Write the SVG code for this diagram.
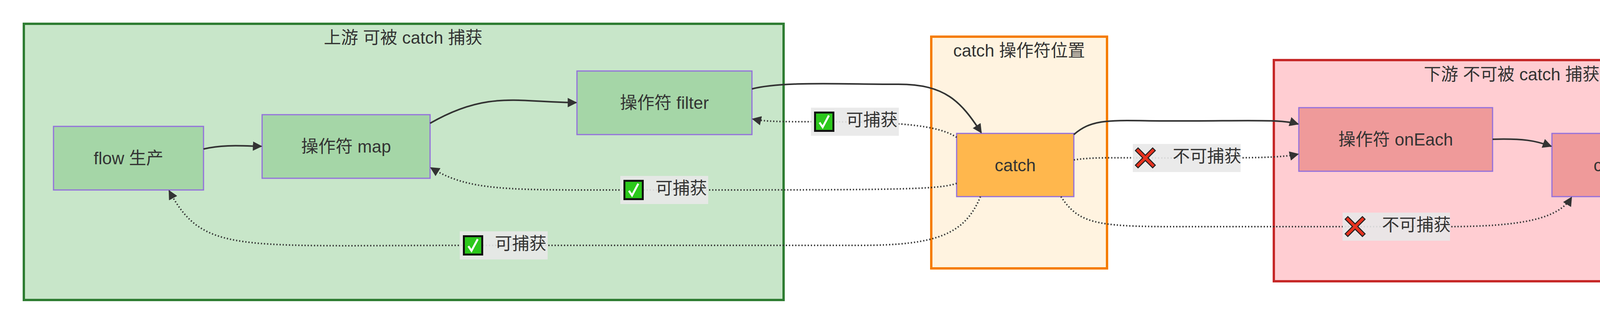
<svg xmlns="http://www.w3.org/2000/svg" width="4533" height="828" viewBox="0 0 4533 828">
<style>
text{font-family:"Liberation Sans","Noto Sans CJK SC",sans-serif;fill:#333;text-anchor:middle;dominant-baseline:central}
.t{font-size:44px}
.n{font-size:44px}
.node{stroke:#9370db;stroke-width:3}
.e{fill:none;stroke:#333;stroke-width:4}
.d{fill:none;stroke:#333;stroke-width:4;stroke-dasharray:3 5}
.lb{fill:#e8e8e8;opacity:0.9}
</style>
<defs>
<marker id="a" viewBox="0 0 10 10" refX="9" refY="5" markerWidth="6" markerHeight="6" markerUnits="strokeWidth" orient="auto"><path d="M0,0L10,5L0,10z" fill="#333"/></marker>
<g id="ok"><rect x="0" y="-26" width="52" height="52" fill="#111"/><rect x="5" y="-21" width="42" height="42" fill="#2cc81c"/><path d="M14,2 L22,14 L38,-16" fill="none" stroke="#fff" stroke-width="5"/></g>
<g id="no"><path d="M4,-28 L26,-6 L48,-28 L56,-20 L34,2 L56,24 L48,32 L26,10 L4,32 L-4,24 L18,2 L-4,-20z" fill="#e8321e" stroke="#222" stroke-width="3" transform="translate(4,-2) scale(0.85)"/></g>
</defs>
<g id="cluster-up"><rect x="61" y="61" width="1945" height="708" fill="#c8e6c9" stroke="#2e7d32" stroke-width="6"/><text class="t" x="1032" y="96">上游 可被 catch 捕获</text></g>
<g id="cluster-catch"><rect x="2384" y="94" width="450" height="594" fill="#fff3e0" stroke="#f57c00" stroke-width="6"/><text class="t" x="2609" y="129">catch 操作符位置</text></g>
<g id="cluster-down"><rect x="3261" y="154" width="1229" height="567" fill="#ffcdd2" stroke="#c62828" stroke-width="6"/><text class="t" x="3870" y="190">下游 不可被 catch 捕获</text></g>
<g id="flow"><rect class="node" x="137" y="324" width="384" height="163" fill="#a5d6a7"/><text class="n" x="329" y="405">flow 生产</text></g>
<g id="map"><rect class="node" x="671" y="294" width="430" height="163" fill="#a5d6a7"/><text class="n" x="886" y="375">操作符 map</text></g>
<g id="filter"><rect class="node" x="1477" y="182" width="448" height="163" fill="#a5d6a7"/><text class="n" x="1701" y="263">操作符 filter</text></g>
<g id="catch"><rect class="node" x="2449" y="342" width="300" height="162" fill="#ffb74d"/><text class="n" x="2599" y="423">catch</text></g>
<g id="onEach"><rect class="node" x="3325" y="276" width="496" height="163" fill="#ef9a9a"/><text class="n" x="3573" y="357">操作符 onEach</text></g>
<g id="collect"><rect class="node" x="3973" y="342" width="439" height="162" fill="#ef9a9a"/><text class="n" x="4192" y="423">collect 终端</text></g>
<g id="edges">
<path class="e" d="M521,382 C570,370 620,374 669,375" marker-end="url(#a)"/>
<path class="e" d="M1101,316 C1250,230 1330,263 1475,263" marker-end="url(#a)"/>
<path class="e" d="M1925,228 C2000,208 2150,216 2300,216 C2420,216 2460,260 2512,340" marker-end="url(#a)"/>
<path class="d" d="M2449,352 C2400,320 2300,312 2080,312 C2000,312 1960,312 1927,305" marker-end="url(#a)"/>
<path class="d" d="M2449,470 C2400,487 2300,487 1600,487 C1300,487 1200,490 1103,430" marker-end="url(#a)"/>
<path class="d" d="M2510,504 C2470,600 2400,629 2200,629 L1200,629 C600,629 520,650 433,489" marker-end="url(#a)"/>
<path class="e" d="M2749,345 C2800,300 2850,310 3000,310 C3200,310 3280,305 3323,318" marker-end="url(#a)"/>
<path class="d" d="M2749,410 C2800,402 2850,405 3000,405 C3200,405 3280,405 3323,395" marker-end="url(#a)"/>
<path class="d" d="M2716,504 C2760,570 2800,581 3000,581 L3700,581 C3900,581 3990,560 4023,506" marker-end="url(#a)"/>
<path class="e" d="M3821,357 C3900,355 3930,360 3971,375" marker-end="url(#a)"/>
</g>
<g id="labels">
<rect class="lb" x="2076" y="276" width="225" height="72"/><use href="#ok" x="2084" y="312"/><text class="n" x="2232" y="307">可捕获</text>
<rect class="lb" x="1588" y="451" width="225" height="72"/><use href="#ok" x="1596" y="487"/><text class="n" x="1744" y="482">可捕获</text>
<rect class="lb" x="1177" y="593" width="225" height="72"/><use href="#ok" x="1185" y="629"/><text class="n" x="1333" y="624">可捕获</text>
<rect class="lb" x="2900" y="369" width="276" height="72"/><use href="#no" x="2906" y="405"/><text class="n" x="3090" y="400">不可捕获</text>
<rect class="lb" x="3437" y="545" width="275" height="72"/><use href="#no" x="3443" y="581"/><text class="n" x="3626" y="576">不可捕获</text>
</g>
<text x="4385" y="792" style="font-size:26px;fill:#888">掘金技术社区 @ 地狱勇士</text>
</svg>
